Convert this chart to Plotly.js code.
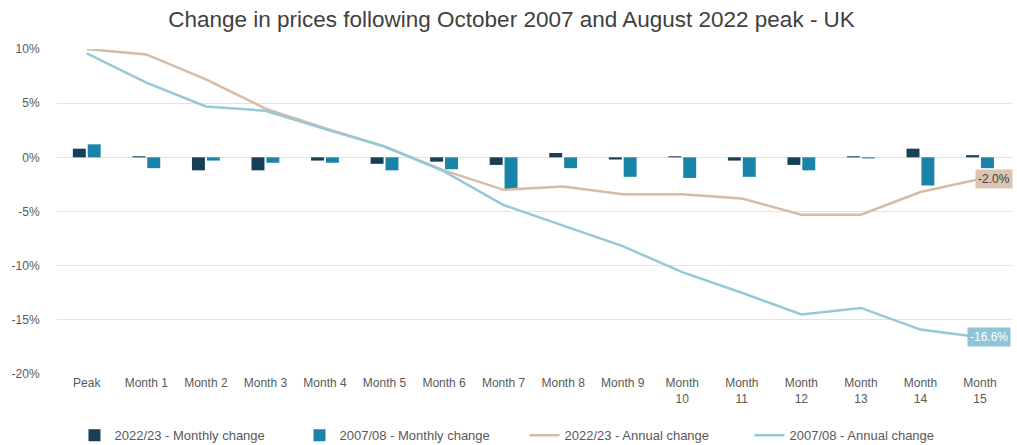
<!DOCTYPE html>
<html>
<head>
<meta charset="utf-8">
<script src="https://cdn.plot.ly/plotly-3.0.1.min.js"></script>
<style>
  html, body { margin: 0; padding: 0; background: #ffffff; }
  #chart { width: 1017px; height: 445px; }
</style>
</head>
<body>
<div id="chart"></div>
<script>
const categories = ["Peak", "Month 1", "Month 2", "Month 3", "Month 4", "Month 5", "Month 6", "Month 7", "Month 8", "Month 9", "Month<br>10", "Month<br>11", "Month<br>12", "Month<br>13", "Month<br>14", "Month<br>15"];
const monthly2022 = [0.8, 0.1, -1.2, -1.2, -0.3, -0.6, -0.4, -0.7, 0.4, -0.2, 0.1, -0.3, -0.7, 0.1, 0.8, 0.2];
const monthly2007 = [1.2, -1.0, -0.3, -0.5, -0.5, -1.2, -1.1, -3.0, -1.0, -1.8, -1.9, -1.8, -1.2, -0.1, -2.6, -1.0];
const annual2022 = [10.0, 9.5, 7.2, 4.5, 2.7, 1.0, -1.2, -3.0, -2.7, -3.4, -3.4, -3.8, -5.3, -5.3, -3.2, -2.0];
const annual2007 = [9.6, 6.9, 4.7, 4.3, 2.6, 1.0, -1.3, -4.4, -6.3, -8.2, -10.6, -12.5, -14.5, -13.9, -15.9, -16.6];
const seriesNames = ["2022/23 - Monthly change", "2007/08 - Monthly change", "2022/23 - Annual change", "2007/08 - Annual change"];
const yTickVals = [10, 5, 0, -5, -10, -15, -20];
const yTickText = ["10%", "5%", "0%", "-5%", "-10%", "-15%", "-20%"];

const FONT = "Liberation Sans, Arial, sans-serif";
const last = categories.length - 1;

const traces = [
  { type: "bar", name: seriesNames[0], x: categories, y: monthly2022,
    marker: { color: "#173f57" }, hoverinfo: "skip" },
  { type: "bar", name: seriesNames[1], x: categories, y: monthly2007,
    marker: { color: "#1a84a8" }, hoverinfo: "skip" },
  { type: "scatter", mode: "lines", name: seriesNames[2], x: categories, y: annual2022,
    line: { color: "#d6bca7", width: 2.5 }, hoverinfo: "skip" },
  { type: "scatter", mode: "lines", name: seriesNames[3], x: categories, y: annual2007,
    line: { color: "#97c8d8", width: 2.5 }, hoverinfo: "skip" }
];

const layout = {
  width: 1017, height: 445,
  margin: { l: 57, r: 4, t: 49, b: 71, pad: 0 },
  paper_bgcolor: "#ffffff", plot_bgcolor: "#ffffff",
  font: { family: FONT, size: 12, color: "#595959" },
  title: { text: "Change in prices following October 2007 and August 2022 peak - UK",
           font: { family: FONT, size: 22.5, color: "#404040" },
           x: 0.503, xanchor: "center", xref: "container", y: 0.958, yanchor: "middle" },
  barmode: "group", bargap: 0.5, bargroupgap: 0.13,
  xaxis: { type: "category", showgrid: false, zeroline: false, showline: false,
           ticks: "", tickfont: { family: FONT, size: 12, color: "#595959" },
           automargin: false },
  yaxis: { range: [-20, 10], tickvals: yTickVals, ticktext: yTickText,
           showgrid: true, gridcolor: "#e3e3e3", gridwidth: 1,
           zeroline: true, zerolinecolor: "#e3e3e3", zerolinewidth: 1,
           showline: false, ticks: "outside", ticklen: 14, tickcolor: "rgba(0,0,0,0)",
           tickfont: { family: FONT, size: 12, color: "#595959" }, automargin: false },
  legend: { orientation: "h", xref: "paper", x: 0.489, xanchor: "center",
            yref: "container", y: 0.022, yanchor: "middle",
            font: { family: FONT, size: 13, color: "#595959" },
            traceorder: "normal", itemwidth: 30, entrywidth: 180, entrywidthmode: "pixels" },
  showlegend: true,
  annotations: [
    { x: categories[last], y: annual2022[last], xref: "x", yref: "y",
      text: (annual2022[last]).toFixed(1) + "%", showarrow: false,
      xanchor: "left", yanchor: "middle", xshift: -5,
      bgcolor: "#dcc5ae", borderpad: 2,
      font: { family: FONT, size: 12, color: "#404040" } },
    { x: categories[last], y: annual2007[last], xref: "x", yref: "y",
      text: (annual2007[last]).toFixed(1) + "%", showarrow: false,
      xanchor: "left", yanchor: "middle", xshift: -13,
      bgcolor: "#8fc4d6", borderpad: 2,
      font: { family: FONT, size: 12, color: "#ffffff" } }
  ]
};

Plotly.newPlot("chart", traces, layout, { displayModeBar: false, staticPlot: true });
</script>
</body>
</html>
